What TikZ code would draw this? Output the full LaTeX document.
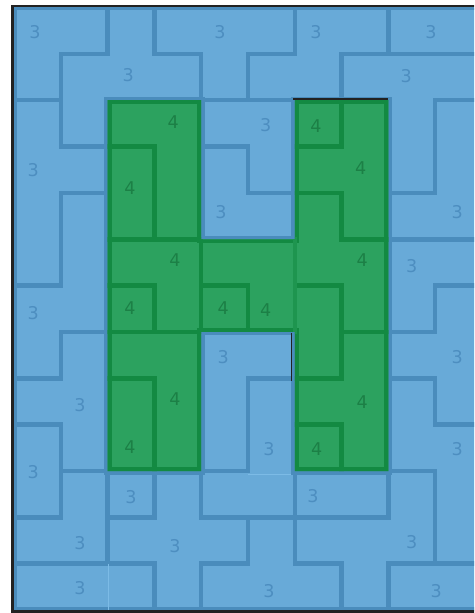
\documentclass[tikz,border=0pt]{standalone}
\usepackage{fontspec}
\setsansfont{DejaVu Sans}
\usepackage{xcolor}
\usepackage{tikz}
\definecolor{cellblue}{HTML}{68AAD8}
\definecolor{edgeblue}{HTML}{4A8CBC}
\definecolor{clueblue}{HTML}{4D8EC0}
\definecolor{seamblue}{HTML}{7CBBE6}
\definecolor{cellgreen}{HTML}{2CA25F}
\definecolor{edgegreen}{HTML}{138A42}
\definecolor{cluegreen}{HTML}{1C8046}
\definecolor{frameink}{HTML}{222222}
\tikzset{
  font=\sffamily\fontsize{10}{12}\selectfont,
  hshape/.style={insert path={(2,2) -- (4,2) -- (4,5) -- (6,5) -- (6,2) -- (8,2)
    -- (8,10) -- (6,10) -- (6,7) -- (4,7) -- (4,10) -- (2,10) -- cycle}},
  bedge/.style={draw=edgeblue, line width=2.6pt, line cap=rect},
  gedge/.style={draw=edgegreen, line width=2.6pt, line cap=rect},
  gsoft/.style={gedge, draw=edgegreen!55!cellgreen, line width=2.2pt},
  seam/.style={draw=seamblue, line width=0.7pt},
  clue/.style={text=clueblue, inner sep=0pt},
  gclue/.style={text=cluegreen, inner sep=0pt}
}

\begin{document}
\begin{tikzpicture}[x=0.936cm,y=-0.927cm]
  \clip (-0.2991,-0.1618) rectangle (9.8291,13.0636);

  % board
  \begin{scope}
    \clip (0,0) rectangle (10,13);
    \fill[cellblue] (0,0) rectangle (10,13);
    \draw[bedge, line width=3.4pt] (0,0) rectangle (10,13);

    % blue regions
    \draw[bedge] (1,1) -- (1,3) (1,4) -- (1,6) (1,7) -- (1,8) (1,9) -- (1,11)
      (2,0) -- (2,1) (2,10) -- (2,12) (3,0) -- (3,1) (3,10) -- (3,11) (3,12) -- (3,13)
      (4,1) -- (4,2) (4,10) -- (4,11) (4,12) -- (4,13)
      (5,1) -- (5,2) (5,3) -- (5,4) (5,8) -- (5,10) (5,11) -- (5,12)
      (6,0) -- (6,1) (6,10) -- (6,12) (7,1) -- (7,2) (7,12) -- (7,13)
      (8,0) -- (8,1) (8,10) -- (8,11) (8,12) -- (8,13)
      (9,2) -- (9,4) (9,6) -- (9,7) (9,8) -- (9,9) (9,10) -- (9,12);
    \draw[bedge] (1,1) -- (2,1) (3,1) -- (4,1) (5,1) -- (6,1) (7,1) -- (10,1)
      (0,2) -- (1,2) (4,2) -- (6,2) (9,2) -- (10,2)
      (1,3) -- (2,3) (4,3) -- (5,3)
      (1,4) -- (2,4) (5,4) -- (6,4) (8,4) -- (9,4)
      (8,5) -- (10,5) (0,6) -- (1,6) (9,6) -- (10,6)
      (1,7) -- (2,7) (8,7) -- (9,7)
      (0,8) -- (1,8) (5,8) -- (6,8) (8,8) -- (9,8)
      (0,9) -- (1,9) (9,9) -- (10,9)
      (1,10) -- (2,10) (4,10) -- (5,10) (8,10) -- (9,10)
      (0,11) -- (1,11) (2,11) -- (3,11) (4,11) -- (8,11)
      (0,12) -- (3,12) (4,12) -- (5,12) (6,12) -- (7,12) (8,12) -- (10,12);
    \draw[seam] (5,10.07) -- (6,10.07) (2.015,12) -- (2.015,13);

    % green H
    \draw[bedge, line width=4pt, line cap=butt, hshape];
    \fill[cellgreen, hshape];
    \clip[hshape];
    \draw[gedge, line width=4.6pt, hshape];
    \draw[gedge] (3,3) -- (3,5) (3,6) -- (3,7) (3,8) -- (3,10) (5,6) -- (5,7)
      (7,2) -- (7,3) (7,4) -- (7,5) (7,6) -- (7,8) (7,9) -- (7,10) (4,5) -- (4,7)
      (2,3) -- (3,3) (6,3) -- (7,3) (6,4) -- (7,4) (2,5) -- (4,5) (7,5) -- (8,5)
      (2,6) -- (3,6) (4,6) -- (5,6) (6,6) -- (7,6) (2,7) -- (4,7) (7,7) -- (8,7)
      (2,8) -- (3,8) (6,8) -- (7,8) (6,9) -- (7,9);
    \draw[gsoft] (6,5) -- (6,7);
  \end{scope}

  % frame
  \draw[frameink, line width=1.7pt] (-0.032,-0.0324) rectangle (10.032,13.0324);
  \draw[frameink, line width=1.1pt] (5.97,1.972) -- (8,1.972);
  \draw[frameink, line width=0.5pt] (5.925,7.02) -- (5.925,8.06);

  % clues in blue regions
  \node[clue] (b1) at (0.45,0.53) {3};
  \node[clue] (b2) at (2.44,1.46) {3};
  \node[clue] (b3) at (4.40,0.53) {3};
  \node[clue] (b4) at (6.45,0.53) {3};
  \node[clue] (b5) at (8.91,0.53) {3};
  \node[clue] (b6) at (8.38,1.48) {3};
  \node[clue] (b7) at (5.38,2.53) {3};
  \node[clue] (b8) at (0.41,3.51) {3};
  \node[clue] (b9) at (4.42,4.41) {3};
  \node[clue] (b10) at (9.47,4.41) {3};
  \node[clue] (b11) at (8.50,5.58) {3};
  \node[clue] (b12) at (0.41,6.59) {3};
  \node[clue] (b13) at (4.47,7.54) {3};
  \node[clue] (b14) at (9.47,7.54) {3};
  \node[clue] (b15) at (1.41,8.58) {3};
  \node[clue] (b16) at (5.45,9.53) {3};
  \node[clue] (b17) at (9.47,9.53) {3};
  \node[clue] (b18) at (0.41,10.02) {3};
  \node[clue] (b19) at (2.50,10.56) {3};
  \node[clue] (b20) at (6.39,10.54) {3};
  \node[clue] (b21) at (1.41,11.55) {3};
  \node[clue] (b22) at (3.44,11.62) {3};
  \node[clue] (b23) at (8.50,11.53) {3};
  \node[clue] (b24) at (1.41,12.52) {3};
  \node[clue] (b25) at (5.45,12.59) {3};
  \node[clue] (b26) at (9.02,12.59) {3};

  % clues in green regions
  \node[gclue] (g1) at (3.40,2.47) {4};
  \node[gclue] (g2) at (2.48,3.89) {4};
  \node[gclue] (g3) at (3.44,5.45) {4};
  \node[gclue] (g4) at (2.48,6.48) {4};
  \node[gclue] (g5) at (3.44,8.45) {4};
  \node[gclue] (g6) at (2.48,9.48) {4};
  \node[gclue] (g7) at (4.47,6.48) {4};
  \node[gclue] (g8) at (5.38,6.53) {4};
  \node[gclue] (g9) at (6.45,2.56) {4};
  \node[gclue] (g10) at (7.41,3.46) {4};
  \node[gclue] (g11) at (7.44,5.45) {4};
  \node[gclue] (g12) at (7.44,8.51) {4};
  \node[gclue] (g13) at (6.47,9.53) {4};
\end{tikzpicture}
\end{document}
